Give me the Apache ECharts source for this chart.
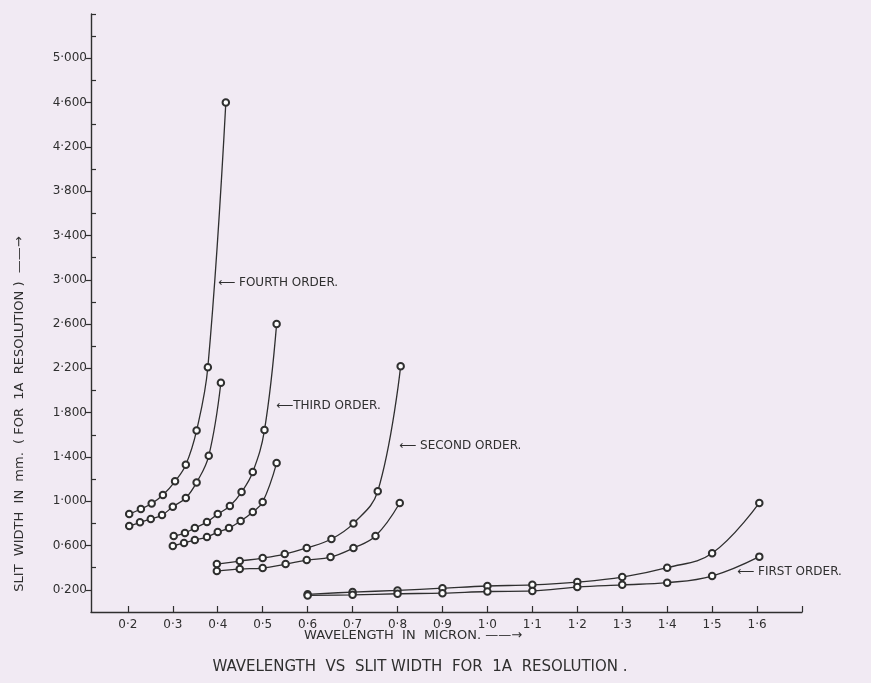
<!DOCTYPE html>
<html>
<head>
<meta charset="utf-8">
<script src="https://cdn.jsdelivr.net/npm/echarts@6/dist/echarts.min.js"></script>
<style>
html,body{margin:0;padding:0;background:#f1eaf3;}
#c{width:871px;height:683px;}
</style>
</head>
<body>
<div id="c"></div>
<script>
// ---- data (wavelength in micron, slit width in mm) ----
const fourthUpperX = [0.203, 0.229, 0.253, 0.278, 0.305, 0.329, 0.353, 0.378, 0.418];
const fourthUpperY = [0.884, 0.93, 0.98, 1.056, 1.18, 1.33, 1.64, 2.21, 4.60];
const fourthLowerX = [0.203, 0.227, 0.251, 0.276, 0.300, 0.329, 0.353, 0.380, 0.407];
const fourthLowerY = [0.776, 0.81, 0.84, 0.875, 0.95, 1.03, 1.17, 1.41, 2.07];

const thirdUpperX = [0.302, 0.327, 0.349, 0.376, 0.400, 0.427, 0.453, 0.478, 0.504, 0.531];
const thirdUpperY = [0.686, 0.713, 0.758, 0.812, 0.884, 0.957, 1.083, 1.264, 1.643, 2.60];
const thirdLowerX = [0.300, 0.325, 0.349, 0.376, 0.400, 0.425, 0.451, 0.478, 0.500, 0.531];
const thirdLowerY = [0.596, 0.623, 0.65, 0.677, 0.722, 0.758, 0.821, 0.903, 0.993, 1.345];

const secondUpperX = [0.398, 0.449, 0.500, 0.549, 0.598, 0.653, 0.702, 0.756, 0.807];
const secondUpperY = [0.433, 0.46, 0.487, 0.523, 0.578, 0.659, 0.80, 1.09, 2.22];
const secondLowerX = [0.398, 0.449, 0.500, 0.551, 0.598, 0.651, 0.702, 0.751, 0.805];
const secondLowerY = [0.37, 0.388, 0.397, 0.433, 0.469, 0.496, 0.578, 0.686, 0.984];

const firstX      = [0.6, 0.7, 0.8, 0.9, 1.0, 1.1, 1.2, 1.3, 1.4, 1.5, 1.605];
const firstUpperY = [0.16, 0.18, 0.195, 0.215, 0.235, 0.245, 0.27, 0.315, 0.40, 0.53, 0.985];
const firstLowerY = [0.15, 0.155, 0.165, 0.17, 0.185, 0.19, 0.225, 0.245, 0.265, 0.325, 0.50];

const xTickLabels = [0.2, 0.3, 0.4, 0.5, 0.6, 0.7, 0.8, 0.9, 1.0, 1.1, 1.2, 1.3, 1.4, 1.5, 1.6];
const xTickMarks  = [0.2, 0.3, 0.4, 0.5, 0.6, 0.7, 0.8, 0.9, 1.0, 1.1, 1.2, 1.3, 1.4, 1.5, 1.6, 1.7];
const yTickLabels = [0.2, 0.6, 1.0, 1.4, 1.8, 2.2, 2.6, 3.0, 3.4, 3.8, 4.2, 4.6, 5.0];
const yMinorTicks = [0.4, 0.8, 1.2, 1.6, 2.0, 2.4, 2.8, 3.2, 3.6, 4.0, 4.4, 4.8, 5.2, 5.4];

const INK = '#2f2f2f';
const FONT = 'DejaVu Sans';

function pairs(xs, ys){ return xs.map((x,i)=>[x, ys[i]]); }
function curve(xs, ys){
  return {
    type:'line', data: pairs(xs, ys), smooth: 0.4,
    symbol:'emptyCircle', symbolSize:6.5,
    lineStyle:{color:INK, width:1.3},
    itemStyle:{color:INK, borderColor:INK, borderWidth:1.3},
    emphasis:{disabled:true}, animation:false
  };
}

const chart = echarts.init(document.getElementById('c'), null, {renderer:'canvas'});
chart.setOption({
  backgroundColor:'#f1eaf3',
  animation:false,
  grid:{left:91, right:69, top:14, bottom:71, containLabel:false},
  xAxis:{
    type:'value', min:0.118, max:1.7,
    axisLine:{lineStyle:{color:INK, width:1.4}},
    axisTick:{inside:true, length:6, lineStyle:{color:INK, width:1.2}, customValues: xTickMarks},
    axisLabel:{color:INK, fontFamily:FONT, fontSize:12, margin:7,
      customValues: xTickLabels,
      formatter: v => v.toFixed(1).replace('.', '·')},
    splitLine:{show:false}
  },
  yAxis:[{
    type:'value', min:0, max:5.4,
    axisLine:{show:true, lineStyle:{color:INK, width:1.4}},
    axisTick:{show:true, inside:false, length:5, lineStyle:{color:INK, width:1.2}, customValues: yTickLabels},
    axisLabel:{color:INK, fontFamily:FONT, fontSize:12, margin:4,
      customValues: yTickLabels,
      formatter: v => v.toFixed(3).replace('.', '·')},
    splitLine:{show:false}
  },{
    type:'value', min:0, max:5.4, position:'left',
    axisLine:{show:false},
    axisTick:{show:true, inside:true, length:5, lineStyle:{color:INK, width:1.2}, customValues: yMinorTicks},
    axisLabel:{show:false},
    splitLine:{show:false}
  }],
  series:[
    curve(fourthUpperX, fourthUpperY),
    curve(fourthLowerX, fourthLowerY),
    curve(thirdUpperX, thirdUpperY),
    curve(thirdLowerX, thirdLowerY),
    curve(secondUpperX, secondUpperY),
    curve(secondLowerX, secondLowerY),
    curve(firstX, firstUpperY),
    curve(firstX, firstLowerY)
  ],
  graphic:[
    {type:'text', left:218, top:277, style:{text:'⟵ FOURTH ORDER.', fill:INK, font:'12px "DejaVu Sans"'}},
    {type:'text', left:276, top:400, style:{text:'⟵THIRD ORDER.', fill:INK, font:'12px "DejaVu Sans"'}},
    {type:'text', left:399, top:440, style:{text:'⟵ SECOND ORDER.', fill:INK, font:'12px "DejaVu Sans"'}},
    {type:'text', left:737, top:566, style:{text:'⟵ FIRST ORDER.', fill:INK, font:'12px "DejaVu Sans"'}},
    {type:'text', left:304, top:629, style:{text:'WAVELENGTH  IN  MICRON. ——→', fill:INK, font:'13px "DejaVu Sans"'}},
    {type:'text', x:420, y:667, style:{text:'WAVELENGTH  VS  SLIT WIDTH  FOR  1A  RESOLUTION .', fill:INK, font:'15px "DejaVu Sans"', align:'center', verticalAlign:'middle'}},
    {type:'text', x:20, y:414, rotation:Math.PI/2, style:{text:'SLIT  WIDTH  IN  mm.  ( FOR  1A  RESOLUTION )  ——→', fill:INK, font:'13px "DejaVu Sans"', align:'center', verticalAlign:'middle'}}
  ]
});
</script>
</body>
</html>
